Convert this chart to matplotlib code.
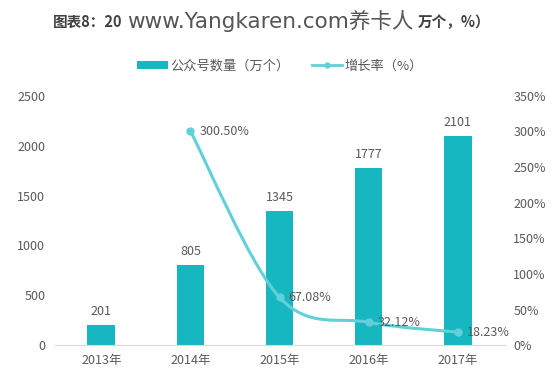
import matplotlib.pyplot as plt
import numpy as np
from matplotlib.path import Path
from matplotlib.patches import PathPatch, Patch
from matplotlib.lines import Line2D

plt.rcParams['font.family'] = ['Noto Sans CJK SC', 'DejaVu Sans']

# 数据
years = ['2013年', '2014年', '2015年', '2016年', '2017年']
counts = [201, 805, 1345, 1777, 2101]          # 公众号数量（万个）
growth_years = [1, 2, 3, 4]                     # 增长率从2014年开始
growth = [300.50, 67.08, 32.12, 18.23]          # 增长率（%）
growth_labels = ['300.50%', '67.08%', '32.12%', '18.23%']

bar_color = '#17b7c2'
line_color = '#62d0d9'
text_color = '#595959'

fig = plt.figure(figsize=(5.55, 3.76), dpi=100)
ax = fig.add_axes([0.099, 0.082, 0.811, 0.663])
ax2 = ax.twinx()

x = np.arange(len(years))
ax.bar(x, counts, width=0.31, color=bar_color, zorder=2)
for xi, v in zip(x, counts):
    ax.text(xi, v + 70, str(v), ha='center', va='bottom', fontsize=9, color=text_color)

ax.set_xlim(-0.52, 4.53)
ax.set_ylim(0, 2500)
ax.set_yticks(range(0, 2501, 500))
ax.set_xticks(x)
ax.set_xticklabels(years)
ax.tick_params(axis='both', length=0, labelsize=9, labelcolor=text_color)
ax.tick_params(axis='x', pad=6)
ax.tick_params(axis='y', pad=7)
for s in ['top', 'right', 'left']:
    ax.spines[s].set_visible(False)
ax.spines['bottom'].set_color('#d9d9d9')

# 右轴：增长率
ax2.set_ylim(0, 350)
ax2.set_yticks(range(0, 351, 50))
ax2.set_yticklabels([f'{v}%' for v in range(0, 351, 50)])
ax2.tick_params(axis='y', length=0, labelsize=9, labelcolor=text_color, pad=6)
for s in ['top', 'right', 'left', 'bottom']:
    ax2.spines[s].set_visible(False)

# 平滑曲线 (Catmull-Rom -> 贝塞尔)
pts = np.column_stack([growth_years, growth]).astype(float)
verts = [pts[0]]
codes = [Path.MOVETO]
n = len(pts)
for i in range(n - 1):
    p0 = pts[i - 1] if i > 0 else pts[i]
    p1 = pts[i]
    p2 = pts[i + 1]
    p3 = pts[i + 2] if i + 2 < n else pts[i + 1]
    c1 = p1 + (p2 - p0) / 6
    c2 = p2 - (p3 - p1) / 6
    verts += [c1, c2, p2]
    codes += [Path.CURVE4] * 3
ax2.add_patch(PathPatch(Path(verts, codes), fill=False, edgecolor=line_color, lw=2.2, zorder=3))
ax2.plot(growth_years, growth, 'o', color=line_color, ms=5, zorder=4)
for gx, gy, lab in zip(growth_years, growth, growth_labels):
    ax2.text(gx + 0.1, gy, lab, ha='left', va='center', fontsize=9, color=text_color)

# 图例
handles = [Patch(facecolor=bar_color, edgecolor='none'),
           Line2D([0], [0], color=line_color, lw=2, marker='o', ms=3.5)]
fig.legend(handles, ['公众号数量（万个）', '增长率（%）'], loc='center',
           bbox_to_anchor=(0.505, 0.824), ncol=2, frameon=False, fontsize=9.5,
           handlelength=2.3, handleheight=0.6, handletextpad=0.2,
           columnspacing=1.7, labelcolor=text_color)

# 标题
fig.text(53 / 555, 1 - 22 / 376, '图表8：20', fontsize=10.5, fontweight='bold',
         color='#404040', va='center')
fig.text(127 / 555, 1 - 21 / 376, 'www.Yangkaren.com养卡人', fontsize=15.5,
         family=['DejaVu Sans', 'Noto Sans CJK SC'], color='#555555', va='center')
fig.text(490 / 555, 1 - 22 / 376, '万个，%）', fontsize=10.5, fontweight='bold',
         color='#404040', va='center', ha='right')

fig.savefig('out.png', dpi=100)
